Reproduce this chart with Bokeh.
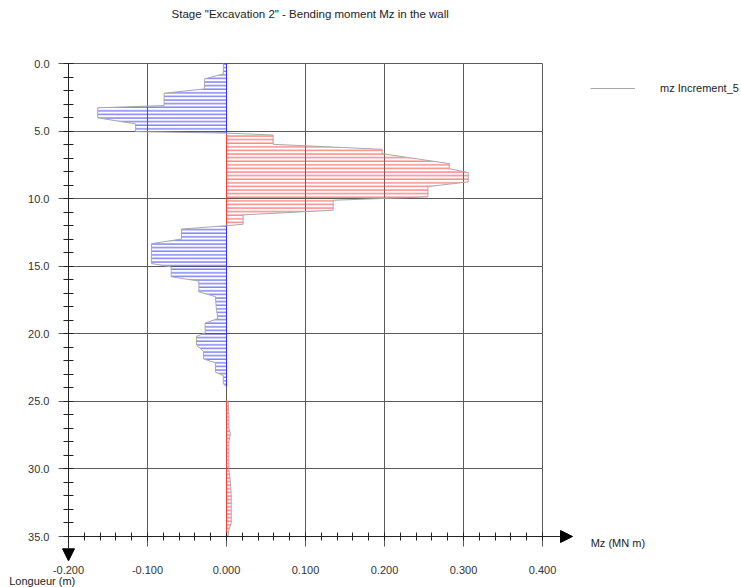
import numpy as np
from bokeh.plotting import figure
from bokeh.models import (Range1d, FixedTicker, NumeralTickFormatter, Label, Arrow,
                          NormalHead, Legend, LegendItem)
from bokeh.embed import file_html
from bokeh.resources import INLINE

# ---------------- data ----------------
# negative zone 1 (0 - 5 m)
depth_n1 = [0.0, 0.77, 1.14, 1.88, 2.2, 3.11, 3.28, 4.02, 4.47, 5.04, 5.15]
mz_n1 = [-0.004, -0.004, -0.028, -0.028, -0.079, -0.079, -0.163, -0.163, -0.115, -0.115, 0.0]
# positive zone 1 (5 - 12 m)
depth_p1 = [5.15, 5.29, 5.98, 6.35, 6.67, 7.41, 7.78, 8.07, 8.76, 9.11, 9.87, 10.12, 10.86, 11.2, 11.9, 12.0]
mz_p1 = [0.0, 0.059, 0.059, 0.197, 0.197, 0.282, 0.282, 0.306, 0.306, 0.255, 0.255, 0.135, 0.135, 0.021, 0.021, 0.0]
# negative zone 2 (12 - 24 m)
depth_n2 = [12.0, 12.25, 12.99, 13.33, 14.8, 15.05, 15.78, 16.1, 16.9, 17.25, 18.06, 18.87, 19.21,
            19.95, 20.19, 20.83, 21.32, 21.86, 22.15, 22.84, 23.09, 23.7, 23.94]
mz_n2 = [0.0, -0.057, -0.057, -0.095, -0.095, -0.070, -0.070, -0.035, -0.035, -0.014, -0.013, -0.011, -0.027,
         -0.027, -0.038, -0.038, -0.029, -0.029, -0.014, -0.014, -0.004, -0.004, 0.0]
# positive zone 2 (25 - 35 m)
depth_p2 = [24.95, 25.0, 26.0, 27.0, 27.4, 28.0, 29.0, 30.0, 31.0, 32.0, 33.0, 34.0, 34.5, 35.0]
mz_p2 = [0.0, 0.002, 0.003, 0.003, 0.005, 0.003, 0.003, 0.003, 0.005, 0.006, 0.006, 0.006, 0.003, 0.002]

x_ticks = [-0.2, -0.1, 0.0, 0.1, 0.2, 0.3, 0.4]
x_minor = [round(v, 3) for v in np.arange(-0.2, 0.4001, 0.02)]
y_ticks = [0, 5, 10, 15, 20, 25, 30, 35]
y_minor = list(range(0, 36))

title_text = 'Stage "Excavation 2" - Bending moment Mz in the wall'
series_name = "mz Increment_5"
x_title = "Mz (MN m)"
y_title = "Longueur (m)"

FONT = "Liberation Sans"
GRID = "#5a5a5a"
W, H = 741, 587
PX_X = 790.0     # pixels per unit of Mz
PX_Y = 473.0 / 35.0  # pixels per metre
x0 = x_ticks[0] - 68 / PX_X
y0 = y_ticks[0] - 63 / PX_Y

p = figure(width=W, height=H,
           x_range=Range1d(x0, x0 + W / PX_X),
           y_range=Range1d(y0 + H / PX_Y, y0),
           output_backend="svg", toolbar_location=None,
           min_border_left=0, min_border_right=0, min_border_top=0, min_border_bottom=0)
p.title.visible = False
p.outline_line_color = None

xt = FixedTicker(ticks=x_ticks, minor_ticks=x_minor)
yt = FixedTicker(ticks=y_ticks, minor_ticks=y_minor)
p.xaxis.ticker = xt
p.yaxis.ticker = yt
p.xaxis.fixed_location = y_ticks[-1]
p.yaxis.fixed_location = x_ticks[0]
p.xaxis.bounds = (x_ticks[0], x_ticks[-1])
p.yaxis.bounds = (y_ticks[0], y_ticks[-1])
p.xgrid.ticker = xt
p.ygrid.ticker = yt
p.xgrid.bounds = (x_ticks[0], x_ticks[-1])
p.ygrid.bounds = (y_ticks[0], y_ticks[-1])
p.xgrid.cross_bounds = (y_ticks[0], y_ticks[-1])
p.ygrid.cross_bounds = (x_ticks[0], x_ticks[-1])
p.xgrid.grid_line_color = GRID
p.ygrid.grid_line_color = GRID
p.xaxis.formatter = NumeralTickFormatter(format="0.000")
p.yaxis.formatter = NumeralTickFormatter(format="0.0")

for ax in (p.xaxis, p.yaxis):
    ax.axis_line_color = "#222222"
    ax.major_tick_line_color = GRID
    ax.minor_tick_line_color = "#222222"
    ax.major_label_text_font = FONT
    ax.major_label_text_font_size = "11px"
    ax.major_label_text_color = "#333333"
    ax.major_tick_in = 0
    ax.major_tick_out = 10

p.xaxis.minor_tick_in = 4
p.xaxis.minor_tick_out = 4
p.yaxis.minor_tick_in = 5
p.yaxis.minor_tick_out = 5
p.xaxis.major_label_standoff = 19
p.yaxis.major_label_standoff = 9

zones = [(depth_n1, mz_n1, "#3030ff"), (depth_p1, mz_p1, "#ff3c3c"),
         (depth_n2, mz_n2, "#3030ff"), (depth_p2, mz_p2, "#ff3c3c")]
outline_r = None
for d, m, c in zones:
    p.harea(x1=0, x2=m, y=d, fill_alpha=0, hatch_pattern="horizontal_line",
            hatch_color=c, hatch_alpha=0.9, hatch_scale=3.6, hatch_weight=1)
    p.segment(x0=0, y0=d[0], x1=0, y1=d[-1], line_color=c, line_width=1)
    r = p.line(m, d, line_color="#a8a8a8", line_width=1)
    if outline_r is None:
        outline_r = r

# axis arrows
p.add_layout(Arrow(end=NormalHead(size=12, fill_color="black", line_color="black"),
                   x_start=x_ticks[-1], y_start=y_ticks[-1], x_end=0.438, y_end=y_ticks[-1],
                   line_color="#222222", line_width=1))
p.add_layout(Arrow(end=NormalHead(size=12, fill_color="black", line_color="black"),
                   x_start=x_ticks[0], y_start=y_ticks[-1], x_end=x_ticks[0], y_end=36.8,
                   line_color="#222222", line_width=1))

p.add_layout(Label(x=0.106, y=-3.63, text=title_text, text_align="center",
                   text_baseline="middle", text_font=FONT, text_font_size="11.5px",
                   text_color="#222222"))
p.add_layout(Label(x=0.461, y=35.45, text=x_title, text_align="left",
                   text_baseline="middle", text_font=FONT, text_font_size="11px",
                   text_color="#222222"))
p.add_layout(Label(x=-0.275, y=38.72, text=y_title, text_align="left",
                   text_baseline="bottom", text_font=FONT, text_font_size="11px",
                   text_color="#222222"))

legend = Legend(items=[LegendItem(label=series_name, renderers=[outline_r])],
                location=(590, 489), padding=0, margin=0, spacing=0,
                glyph_width=45, glyph_height=20, label_standoff=25,
                label_text_font=FONT, label_text_font_size="11px",
                label_text_color="#222222",
                border_line_color=None, background_fill_alpha=0)
p.add_layout(legend)

open("out.html", "w").write(file_html(p, INLINE))
